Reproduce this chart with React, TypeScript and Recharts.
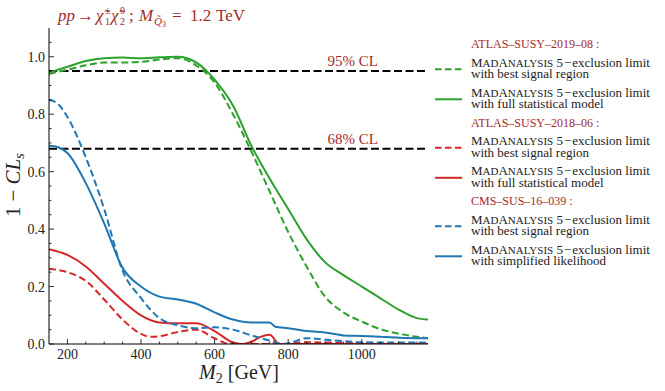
import { Line, LineChart, ReferenceLine, XAxis, YAxis } from "recharts";

const SERIF = "'Liberation Serif', 'DejaVu Serif', serif";
const TEXT_RED = "#a52a2a";
const GREEN = "#2ca02c";
const RED = "#d62728";
const BLUE = "#1f77b4";

// ATLAS-SUSY-2019-08
const atlas19BestM = [150, 200, 250, 300, 350, 400, 450, 500, 550, 600, 650, 700, 750, 800, 850, 900, 950, 1000, 1050, 1100, 1150, 1180];
const atlas19BestV = [0.94, 0.955, 0.97, 0.98, 0.98, 0.982, 0.99, 0.995, 0.97, 0.91, 0.8, 0.67, 0.53, 0.39, 0.27, 0.165, 0.11, 0.078, 0.052, 0.036, 0.025, 0.02];
const atlas19FullM = [150, 200, 250, 300, 350, 400, 450, 500, 550, 575, 600, 650, 700, 750, 800, 850, 900, 950, 1000, 1050, 1100, 1150, 1180];
const atlas19FullV = [0.945, 0.965, 0.985, 0.995, 0.997, 0.995, 0.998, 1.0, 0.98, 0.955, 0.92, 0.83, 0.69, 0.575, 0.47, 0.365, 0.285, 0.24, 0.2, 0.16, 0.12, 0.09, 0.085];

// ATLAS-SUSY-2018-06
const atlas18BestM = [150, 200, 250, 300, 350, 400, 425, 450, 500, 550, 600, 640, 700, 780, 850, 950, 1050, 1180];
const atlas18BestV = [0.262, 0.25, 0.22, 0.155, 0.085, 0.035, 0.025, 0.027, 0.042, 0.05, 0.02, 0.0, 0.0, 0.0, 0.006, 0.004, 0.002, 0.002];
const atlas18FullM = [150, 200, 250, 300, 350, 400, 450, 500, 550, 600, 650, 675, 700, 725, 750, 775, 800, 1180];
const atlas18FullV = [0.33, 0.31, 0.27, 0.21, 0.15, 0.1, 0.075, 0.072, 0.072, 0.045, 0.005, 0.0, 0.008, 0.025, 0.032, 0.0, 0.0, 0.0];

// CMS-SUS-16-039
const cmsBestM = [150, 175, 200, 250, 300, 350, 400, 450, 500, 550, 600, 650, 700, 750, 790, 850, 900, 950, 1000, 1100, 1180];
const cmsBestV = [0.85, 0.835, 0.79, 0.65, 0.47, 0.255, 0.16, 0.09, 0.065, 0.055, 0.058, 0.05, 0.03, 0.012, 0.0, 0.02, 0.015, 0.01, 0.006, 0.005, 0.005];
const cmsSimpM = [150, 175, 200, 250, 300, 350, 400, 450, 500, 550, 600, 650, 700, 750, 765, 800, 850, 900, 950, 1000, 1050, 1100, 1180];
const cmsSimpV = [0.69, 0.685, 0.665, 0.56, 0.42, 0.265, 0.2, 0.165, 0.155, 0.14, 0.11, 0.085, 0.075, 0.075, 0.06, 0.055, 0.045, 0.04, 0.03, 0.028, 0.025, 0.022, 0.02];

const xTicks = [200, 250, 300, 350, 400, 450, 500, 550, 600, 650, 700, 750, 800, 850, 900, 950, 1000, 1050, 1100, 1150];
const xLabels = [200, 400, 600, 800, 1000];
const yTicks = [0, 0.05, 0.1, 0.15, 0.2, 0.25, 0.3, 0.35, 0.4, 0.45, 0.5, 0.55, 0.6, 0.65, 0.7, 0.75, 0.8, 0.85, 0.9, 0.95, 1.0, 1.05];
const yLabels = ["0.0", "0.2", "0.4", "0.6", "0.8", "1.0"];

const zip = (m: number[], v: number[]) => m.map((x, i) => ({ m: x, v: v[i] }));

const series = [
  { key: "a19b", data: zip(atlas19BestM, atlas19BestV), color: GREEN, dashed: true },
  { key: "a19f", data: zip(atlas19FullM, atlas19FullV), color: GREEN, dashed: false },
  { key: "a18b", data: zip(atlas18BestM, atlas18BestV), color: RED, dashed: true },
  { key: "a18f", data: zip(atlas18FullM, atlas18FullV), color: RED, dashed: false },
  { key: "cmsb", data: zip(cmsBestM, cmsBestV), color: BLUE, dashed: true },
  { key: "cmss", data: zip(cmsSimpM, cmsSimpV), color: BLUE, dashed: false },
];

const legendGroups = [
  { title: "ATLAS–SUSY–2019–08 :", color: GREEN, second: "with full statistical model" },
  { title: "ATLAS–SUSY–2018–06 :", color: RED, second: "with full statistical model" },
  { title: "CMS–SUS–16–039 :", color: BLUE, second: "with simplified likelihood" },
];

const DASH = "7 3.5";
const isLabelled = (v: number) => Math.abs(Math.round(v * 100) % 20) === 0;

function BottomTick({ x, y, payload }: any) {
  const major = xLabels.includes(payload.value);
  return (
    <g>
      <line x1={x} x2={x} y1={y} y2={y - (major ? 5 : 2.5)} stroke="#000" strokeWidth={0.8} />
      {major && (
        <text x={x} y={y + 14.5} textAnchor="middle" fontSize={14} fontFamily={SERIF} fill="#222">
          {payload.value}
        </text>
      )}
    </g>
  );
}

function TopTick({ x, y, payload }: any) {
  const major = xLabels.includes(payload.value);
  return <line x1={x} x2={x} y1={y} y2={y + (major ? 5 : 2.5)} stroke="#000" strokeWidth={0.8} />;
}

function LeftTick({ x, y, payload }: any) {
  const major = isLabelled(payload.value);
  return (
    <g>
      <line x1={x} x2={x + (major ? 5 : 2.5)} y1={y} y2={y} stroke="#000" strokeWidth={0.8} />
      {major && (
        <text x={x - 4} y={y + 5} textAnchor="end" fontSize={14} fontFamily={SERIF} fill="#222">
          {yLabels[Math.round(payload.value * 5)]}
        </text>
      )}
    </g>
  );
}

function RightTick({ x, y, payload }: any) {
  const major = isLabelled(payload.value);
  return <line x1={x} x2={x - (major ? 5 : 2.5)} y1={y} y2={y} stroke="#000" strokeWidth={0.8} />;
}

function clLabel(text: string) {
  return ({ viewBox }: any) => (
    <text
      x={viewBox.x + viewBox.width - 50}
      y={viewBox.y - 5}
      textAnchor="end"
      fontSize={15}
      fontFamily={SERIF}
      fill={TEXT_RED}
    >
      {text}
    </text>
  );
}

function MadAnalysis({ x, y }: { x: number; y: number }) {
  return (
    <text x={x} y={y} fontSize={13} fontFamily={SERIF} fill="#222">
      M<tspan fontSize={11}>AD</tspan>A<tspan fontSize={11}>NALYSIS</tspan> 5<tspan dx={1}>−</tspan>
      <tspan dx={1}>exclusion limit</tspan>
    </text>
  );
}

function Overlay() {
  return (
    <svg width={665} height={391} style={{ position: "absolute", left: 0, top: 0, pointerEvents: "none" }}>
      <text y={20.5} fontSize={17} fontFamily={SERIF} fill={TEXT_RED}>
        <tspan x={58} fontStyle="italic">pp</tspan>
        <tspan x={77}>→</tspan>
        <tspan x={96} fontStyle="italic">χ̃</tspan>
        <tspan x={105} y={14} fontSize={10}>±</tspan>
        <tspan x={105} y={25} fontSize={10}>1</tspan>
        <tspan x={111} y={20.5} fontStyle="italic">χ̃</tspan>
        <tspan x={120} y={14} fontSize={10}>0</tspan>
        <tspan x={120} y={25} fontSize={10}>2</tspan>
        <tspan x={129} y={20.5}>;</tspan>
        <tspan x={139} fontStyle="italic">M</tspan>
        <tspan x={154} y={25} fontSize={11} fontStyle="italic">Q̃</tspan>
        <tspan x={162} y={27} fontSize={8}>3</tspan>
        <tspan x={172} y={20.5}>=</tspan>
        <tspan x={190}>1.2</tspan>
        <tspan x={216}>TeV</tspan>
      </text>

      <text transform="translate(20,185) rotate(-90)" textAnchor="middle" fontSize={21} fontFamily={SERIF} fill="#222">
        1<tspan dx={5}>−</tspan>
        <tspan dx={5} fontStyle="italic">CL</tspan>
        <tspan fontSize={15} fontStyle="italic" dy={4}>s</tspan>
      </text>

      <text x={239} y={379} textAnchor="middle" fontSize={20} fontFamily={SERIF} fill="#222">
        <tspan fontStyle="italic">M</tspan>
        <tspan fontSize={14} dy={4}>2</tspan>
        <tspan dy={-4}> [GeV]</tspan>
      </text>

      {legendGroups.map((g, i) => {
        const h = 48.3 + i * 78.5;
        return (
          <g key={g.title}>
            <text x={471} y={h} fontSize={12} fontFamily={SERIF} fill={TEXT_RED}>
              {g.title}
            </text>
            <line x1={435} x2={462} y1={h + 21} y2={h + 21} stroke={g.color} strokeWidth={2} strokeDasharray="6.5 3.5" />
            <MadAnalysis x={471} y={h + 18.5} />
            <text x={471} y={h + 30} fontSize={13} fontFamily={SERIF} fill="#222">
              with best signal region
            </text>
            <line x1={435} x2={462} y1={h + 51} y2={h + 51} stroke={g.color} strokeWidth={2} />
            <MadAnalysis x={471} y={h + 48.5} />
            <text x={471} y={h + 60} fontSize={13} fontFamily={SERIF} fill="#222">
              {g.second}
            </text>
          </g>
        );
      })}
    </svg>
  );
}

export default function App() {
  return (
    <div style={{ position: "absolute", left: 0, top: 0, width: 665, height: 391, background: "#fff" }}>
      <LineChart width={665} height={391} margin={{ top: 28, right: 237, bottom: 0, left: 0 }}>
        <XAxis
          xAxisId="b"
          type="number"
          dataKey="m"
          domain={[150, 1180]}
          allowDataOverflow
          ticks={xTicks}
          interval={0}
          tickSize={0}
          tickMargin={0}
          tick={BottomTick}
          height={47}
          axisLine={{ stroke: "#000" }}
        />
        <XAxis
          xAxisId="t"
          orientation="top"
          type="number"
          dataKey="m"
          domain={[150, 1180]}
          allowDataOverflow
          ticks={xTicks}
          interval={0}
          tickSize={0}
          tickMargin={0}
          tick={TopTick}
          height={0}
          axisLine={{ stroke: "#000" }}
        />
        <YAxis
          yAxisId="l"
          type="number"
          domain={[0, 1.1]}
          allowDataOverflow
          ticks={yTicks}
          interval={0}
          tickSize={0}
          tickMargin={0}
          tick={LeftTick}
          width={49}
          axisLine={{ stroke: "#000" }}
        />
        <YAxis
          yAxisId="r"
          orientation="right"
          type="number"
          domain={[0, 1.1]}
          allowDataOverflow
          ticks={yTicks}
          interval={0}
          tickSize={0}
          tickMargin={0}
          tick={RightTick}
          width={0}
          axisLine={{ stroke: "#000" }}
        />
        <ReferenceLine xAxisId="b" yAxisId="l" y={0.95} stroke="#000" strokeWidth={2} strokeDasharray="8 3.5" label={clLabel("95% CL")} />
        <ReferenceLine xAxisId="b" yAxisId="l" y={0.68} stroke="#000" strokeWidth={2} strokeDasharray="8 3.5" label={clLabel("68% CL")} />
        {series.map((s) => (
          <Line
            key={s.key}
            xAxisId="b"
            yAxisId="l"
            data={s.data}
            dataKey="v"
            type="monotone"
            stroke={s.color}
            strokeWidth={2}
            strokeDasharray={s.dashed ? DASH : undefined}
            dot={false}
            activeDot={false}
            isAnimationActive={false}
          />
        ))}
      </LineChart>
      <Overlay />
    </div>
  );
}
